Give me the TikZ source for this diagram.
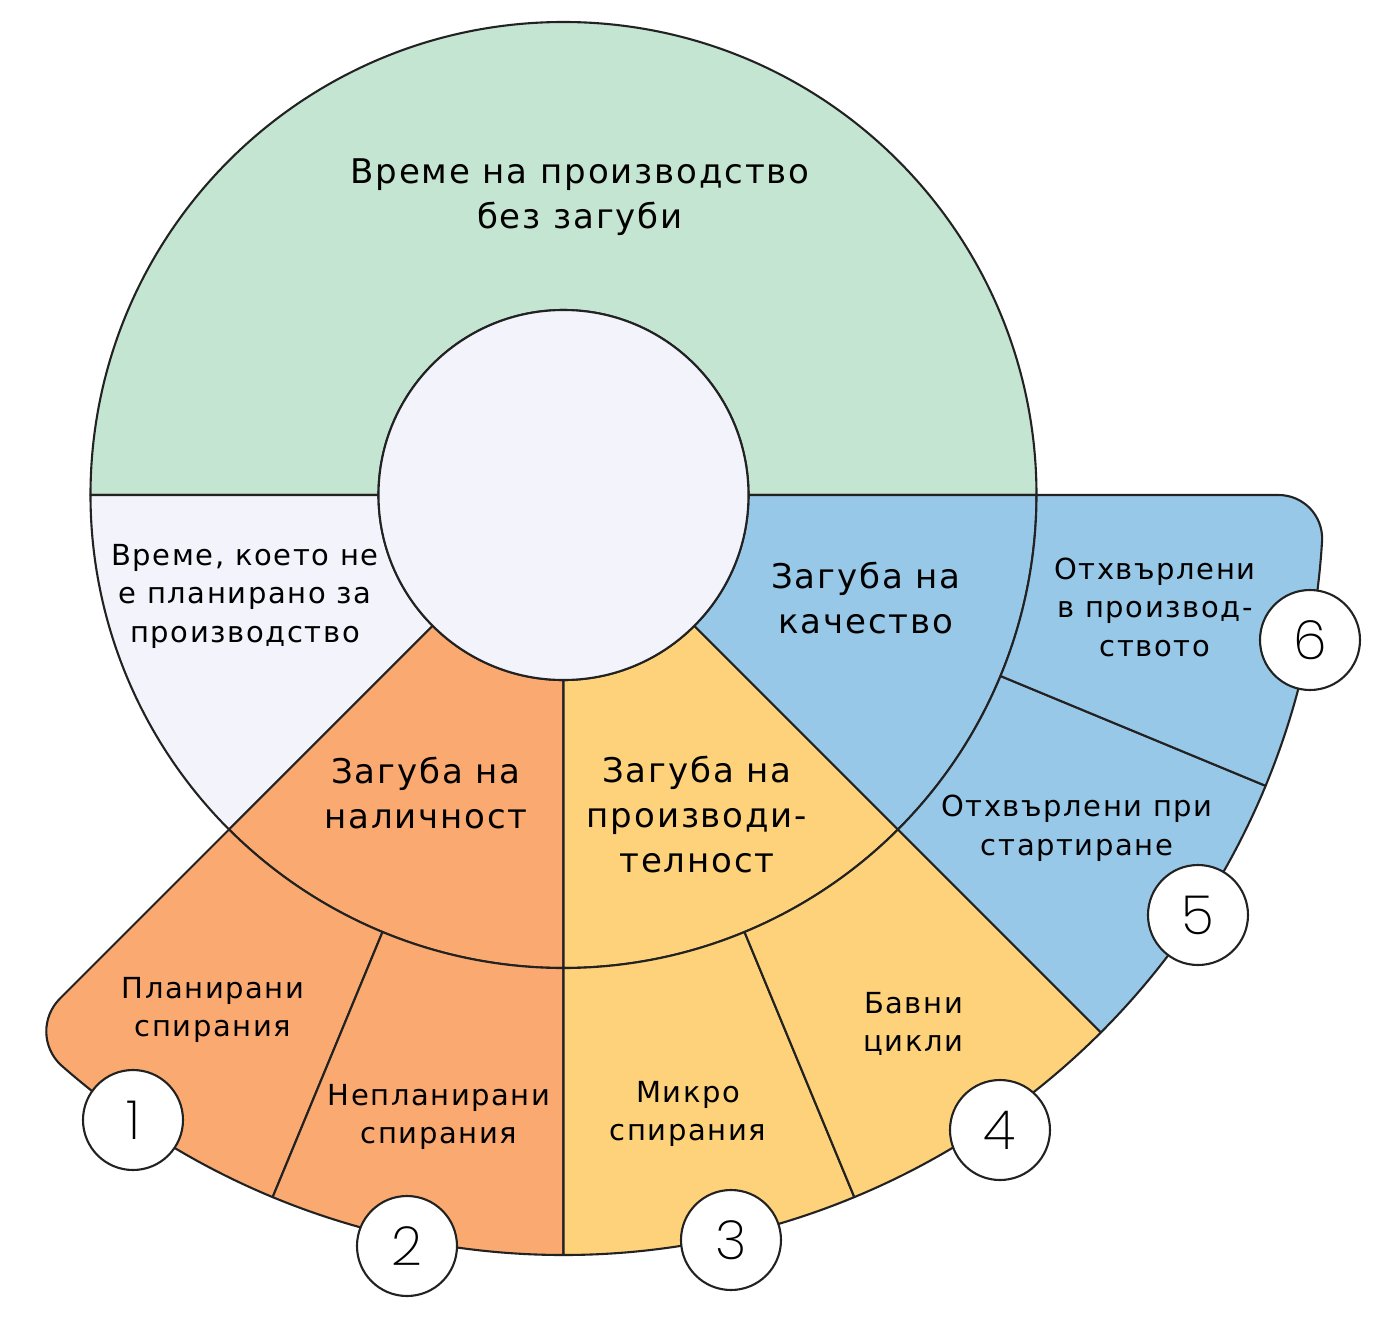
\documentclass[tikz,border=0pt]{standalone}
\usepackage{fontspec}
\usetikzlibrary{calc}
\setmainfont{DejaVu Sans}[LetterSpace=5.5]
\IfFontExistsTF{Poppins ExtraLight}{\newfontfamily\numfont{Poppins ExtraLight}}{\IfFontExistsTF{Poppins Light}{\newfontfamily\numfont{Poppins Light}}{\newfontfamily\numfont{Poppins}}}
\definecolor{cgreen}{HTML}{C5E5D3}
\definecolor{clav}{HTML}{F3F3FC}
\definecolor{corange}{HTML}{FAAA70}
\definecolor{cyellow}{HTML}{FDD27A}
\definecolor{cblue}{HTML}{98C8E8}
\definecolor{cline}{HTML}{222222}
\newcommand\annseg[5]{\filldraw[#1] (#2:#4) -- (#2:#5) arc[start angle=#2,end angle=#3,radius=#5] -- (#3:#4) arc[start angle=#3,end angle=#2,radius=#4] -- cycle;}
\tikzset{
  region/.style={draw=cline,line width=2.1pt,line join=round},
  bigtxt/.style={align=center,font=\fontsize{34}{45}\selectfont,inner sep=0pt},
  smalltxt/.style={align=center,font=\fontsize{29}{38.5}\selectfont,inner sep=0pt},
  numcirc/.style={circle,draw=cline,line width=2.1pt,fill=white,minimum size=100pt,inner sep=0pt,font=\numfont\fontsize{54}{54}\selectfont}
}
\begin{document}
\begin{tikzpicture}[x=1pt,y=1pt]
\useasboundingbox (-563.5,-823) rectangle (820.5,495);
\def\ri{185}\def\rm{473}\def\ro{760}
% middle ring
\annseg{region,fill=cgreen}{0}{180}{\ri}{\rm}
\annseg{region,fill=clav}{180}{225}{\ri}{\rm}
\annseg{region,fill=corange}{225}{270}{\ri}{\rm}
\annseg{region,fill=cyellow}{270}{315}{\ri}{\rm}
\annseg{region,fill=cblue}{315}{360}{\ri}{\rm}
% outer ring
\coordinate (k1) at (225:\ro);
\coordinate (p1) at (228.6:\ro);
\coordinate (q1) at (225:\ro-48);
\filldraw[region,fill=corange] (247.5:\rm) -- (247.5:\ro) arc[start angle=247.5,end angle=228.6,radius=\ro] .. controls ($(p1)!0.55!(k1)$) and ($(q1)!0.55!(k1)$) .. (q1) -- (225:\rm) arc[start angle=225,end angle=247.5,radius=\rm] -- cycle;
\annseg{region,fill=corange}{247.5}{270}{\rm}{\ro}
\annseg{region,fill=cyellow}{270}{292.5}{\rm}{\ro}
\annseg{region,fill=cyellow}{292.5}{315}{\rm}{\ro}
\annseg{region,fill=cblue}{315}{337.5}{\rm}{\ro}
\coordinate (k6) at (0:\ro);
\coordinate (p6) at (-3.4:\ro);
\coordinate (q6) at (0:\ro-45);
\filldraw[region,fill=cblue] (-22.5:\rm) -- (-22.5:\ro) arc[start angle=-22.5,end angle=-3.4,radius=\ro] .. controls ($(p6)!0.55!(k6)$) and ($(q6)!0.55!(k6)$) .. (q6) -- (0:\rm) arc[start angle=0,end angle=-22.5,radius=\rm] -- cycle;
% inner circle
\filldraw[region,fill=clav] (0,0) circle[radius=\ri];
% labels
\node[bigtxt] (t0) at (16.5,298) {Време на производство\\без загуби};
\node[smalltxt] (t1) at (-318.5,-101) {Време, което не\\е планирано за\\производство};
\node[bigtxt] (t2) at (-137.5,-298) {Загуба на\\наличност};
\node[bigtxt] (t3) at (133.5,-320) {Загуба на\\производи-\\телност};
\node[bigtxt] (t4) at (302.5,-103) {Загуба на\\качество};
\node[smalltxt] (t5) at (591.5,-112) {Отхвърлени\\в производ-\\ството};
\node[smalltxt] (t6) at (513.5,-333) {Отхвърлени при\\стартиране};
\node[smalltxt] (t7) at (350,-529) {Бавни\\цикли};
\node[smalltxt] (t8) at (124.5,-619) {Микро\\спирания};
\node[smalltxt] (t9) at (-124.5,-622) {Непланирани\\спирания};
\node[smalltxt] (t10) at (-350.5,-515) {Планирани\\спирания};
% number circles
\node[numcirc] (n1) at (-430.5,-625) {1};
\node[numcirc] (n2) at (-156.5,-751) {2};
\node[numcirc] (n3) at (167.5,-745) {3};
\node[numcirc] (n4) at (436.5,-635) {4};
\node[numcirc] (n5) at (634.5,-420) {5};
\node[numcirc] (n6) at (746.5,-145) {6};
\end{tikzpicture}
\end{document}
